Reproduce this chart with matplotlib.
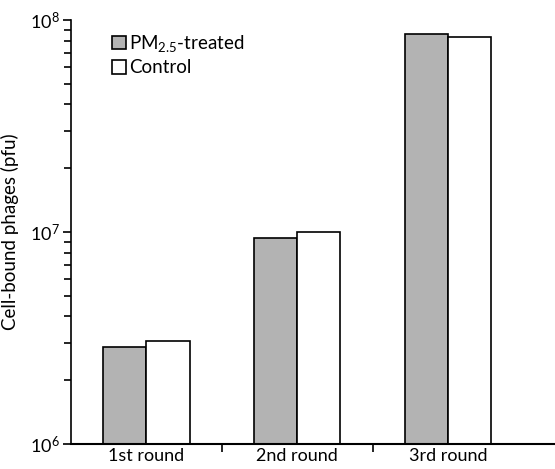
import numpy as np
import matplotlib
matplotlib.use("Agg")
import matplotlib.pyplot as plt

# bar heights (pfu)
rounds = ["1st round", "2nd round", "3rd round"]
pm25_treated = [2.87e6, 9.4e6, 8.6e7]
control = [3.07e6, 1.0e7, 8.3e7]

plt.rcParams["font.family"] = ["Lato", "DejaVu Sans"]
plt.rcParams["mathtext.fontset"] = "custom"
plt.rcParams["mathtext.rm"] = "Lato"
plt.rcParams["mathtext.it"] = "Lato:italic"

fig = plt.figure(figsize=(5.55, 4.69), dpi=100)
ax = fig.add_axes([0.128, 0.0533, 0.872, 0.904])

x = np.arange(len(rounds))
w = 0.286
ax.bar(x - w / 2, pm25_treated, w, color="#b3b3b3", edgecolor="black",
       linewidth=1.2, label="PM$_{2.5}$-treated")
ax.bar(x + w / 2, control, w, color="white", edgecolor="black",
       linewidth=1.2, label="Control")

ax.set_yscale("log")
ax.set_ylim(1e6, 1e8)
ax.set_xlim(-0.5, 2.71)

# group separators as major ticks, round names as unmarked minor ticks
ax.set_xticks([0.5, 1.5])
ax.set_xticklabels([])
ax.set_xticks(x, minor=True)
ax.set_xticklabels(rounds, minor=True, fontsize=13)
ax.tick_params(axis="x", which="major", length=6, width=1.2, direction="out")
ax.tick_params(axis="x", which="minor", length=0, pad=3)

decades = [1e6, 1e7, 1e8]
ax.set_yticks(decades)
ax.set_yticklabels(["10$^6$", "10$^7$", "10$^8$"], fontsize=13)
ax.set_yticks([s * d for d in decades[:-1] for s in range(2, 10)], minor=True)
ax.set_yticklabels([], minor=True)
ax.tick_params(axis="y", which="major", length=6, width=1.2, pad=2)
ax.tick_params(axis="y", which="minor", length=5, width=1.2)
ax.set_ylabel("Cell-bound phages (pfu)", fontsize=13.5, labelpad=8)

for s in ["top", "right"]:
    ax.spines[s].set_visible(False)
ax.spines["left"].set_linewidth(1.2)
ax.spines["bottom"].set_linewidth(1.5)

ax.legend(loc="upper left", bbox_to_anchor=(0.085, 0.97), frameon=False, fontsize=13.5,
          handlelength=0.72, handleheight=0.72, handletextpad=0.2, labelspacing=0.3,
          borderaxespad=0, borderpad=0)

fig.savefig("out.png", dpi=100)
